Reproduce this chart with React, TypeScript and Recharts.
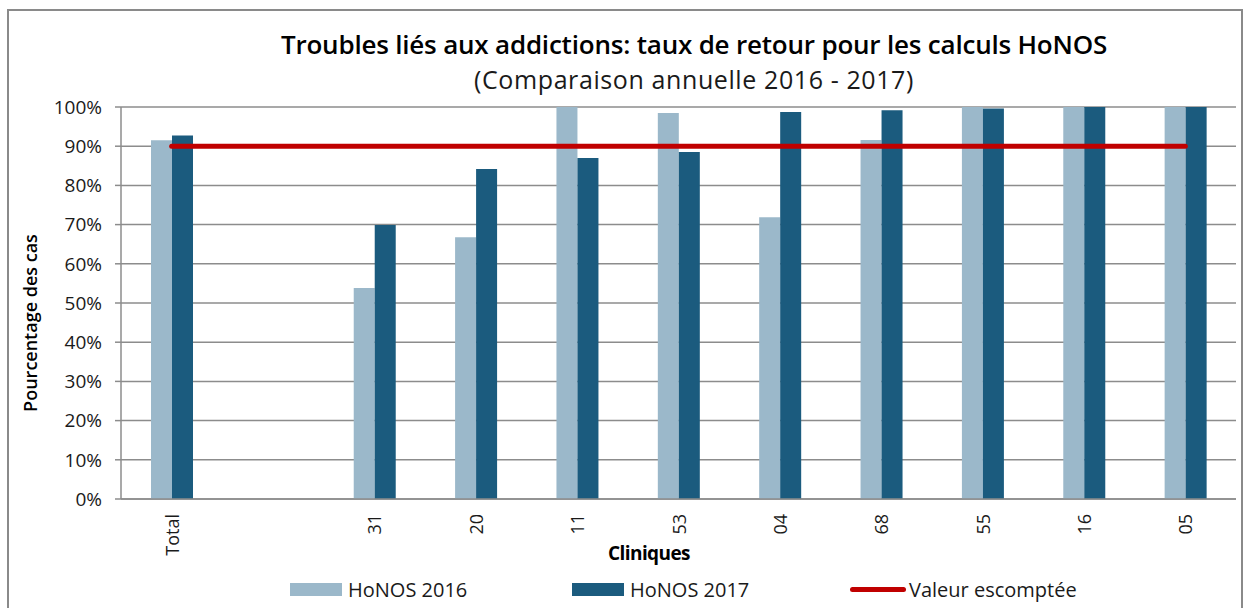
import { ComposedChart, Bar, Line, XAxis, YAxis, CartesianGrid } from 'recharts';

// valeurs (%)
const categories = ['Total', '', '31', '20', '11', '53', '04', '68', '55', '16', '05'];
const honos2016 = [91.5, null, 53.8, 66.8, 100, 98.5, 71.9, 91.6, 100, 100, 100];
const honos2017 = [92.7, null, 69.9, 84.2, 87, 88.5, 98.7, 99.2, 99.6, 100, 100];
const expected = [90, 90, 90, 90, 90, 90, 90, 90, 90, 90, 90];
const yTicks = [0, 10, 20, 30, 40, 50, 60, 70, 80, 90, 100];
const boundaryTicks = [0, 1, 2, 3, 4, 5, 6, 7, 8, 9, 10, 11];

const LIGHT = '#9bb8ca';
const DARK = '#1b5b7e';
const RED = '#c00000';
const GRID = '#8c8c8c';
const FONT = '"Open Sans", "Noto Sans", sans-serif';

const data = categories.map((name, i) => ({
  name,
  idx: i + 0.5,
  h2016: honos2016[i],
  h2017: honos2017[i],
  target: expected[i],
}));

const legendItems = [
  { label: 'HoNOS 2016', color: LIGHT, kind: 'box', left: 290 },
  { label: 'HoNOS 2017', color: DARK, kind: 'box', left: 572 },
  { label: 'Valeur escomptée', color: RED, kind: 'line', left: 850 },
];

const CatTick = ({ x, y, payload }: any) => (
  <text
    x={x}
    y={y}
    transform={`rotate(-90, ${x}, ${y})`}
    textAnchor="end"
    dominantBaseline="central"
    fontSize={18}
    fontFamily={FONT}
    fill="#1a1a1a"
  >
    {payload.value}
  </text>
);

const App = () => {
  return (
    <div style={{ position: 'absolute', left: 0, top: 0, width: 1248, height: 608, overflow: 'hidden', fontFamily: FONT }}>
      <div style={{ position: 'absolute', left: 7, top: 9, width: 1232, height: 640, border: '2px solid #8a8a8a' }} />

      <div style={{ position: 'absolute', left: 0, width: 1388, top: 29, textAlign: 'center', fontSize: 26, fontWeight: 600, letterSpacing: -0.2, color: '#000', lineHeight: '30px', whiteSpace: 'nowrap' }}>
        Troubles liés aux addictions: taux de retour pour les calculs HoNOS
      </div>
      <div style={{ position: 'absolute', left: 0, width: 1388, top: 65, textAlign: 'center', fontSize: 25, letterSpacing: 0.6, color: '#1a1a1a', lineHeight: '28px', whiteSpace: 'nowrap' }}>
        (Comparaison annuelle 2016 - 2017)
      </div>

      <div style={{ position: 'absolute', left: 0, top: 0 }}>
        <ComposedChart
          width={1248}
          height={608}
          data={data}
          margin={{ top: 107, right: 12, bottom: 0, left: 0 }}
          barGap={0}
        >
          <CartesianGrid vertical={false} stroke={GRID} strokeWidth={1.5} />
          <XAxis
            xAxisId="bounds"
            type="number"
            dataKey="idx"
            domain={[0, 11]}
            ticks={boundaryTicks}
            allowDataOverflow
            height={0}
            tick={false}
            tickSize={7}
            axisLine={false}
            stroke={GRID}
            strokeWidth={1.5}
          />
          <XAxis
            dataKey="name"
            height={109}
            interval={0}
            tickLine={false}
            tickSize={0}
            tickMargin={15}
            axisLine={{ stroke: GRID, strokeWidth: 1.5 }}
            tick={<CatTick />}
          />
          <YAxis
            width={121}
            domain={[0, 100]}
            ticks={yTicks}
            tickFormatter={(v: number) => `${v}%`}
            tickSize={6}
            tickMargin={13}
            axisLine={{ stroke: GRID, strokeWidth: 1.5 }}
            tickLine={{ stroke: GRID, strokeWidth: 1.5 }}
            tick={{ fontSize: 19, fontFamily: FONT, fill: '#1a1a1a' }}
          />
          <Bar dataKey="h2016" name="HoNOS 2016" fill={LIGHT} barSize={21} isAnimationActive={false} />
          <Bar dataKey="h2017" name="HoNOS 2017" fill={DARK} barSize={21} isAnimationActive={false} />
          <Line
            dataKey="target"
            name="Valeur escomptée"
            stroke={RED}
            strokeWidth={5}
            strokeLinecap="round"
            dot={false}
            activeDot={false}
            isAnimationActive={false}
          />
        </ComposedChart>
      </div>

      <div style={{ position: 'absolute', left: 30, top: 323, transform: 'translate(-50%, -50%) rotate(-90deg)', whiteSpace: 'nowrap', fontSize: 18, fontWeight: 600, color: '#000' }}>
        Pourcentage des cas
      </div>
      <div style={{ position: 'absolute', left: 649, top: 553, transform: 'translate(-50%, -50%)', whiteSpace: 'nowrap', fontSize: 19, fontWeight: 700, letterSpacing: -0.6, color: '#000' }}>
        Cliniques
      </div>

      {legendItems.map((it) => (
        <div key={it.label} style={{ position: 'absolute', left: it.left, top: 576, height: 26, display: 'flex', alignItems: 'center', fontSize: 20, color: '#1a1a1a', whiteSpace: 'nowrap' }}>
          {it.kind === 'box' ? (
            <span style={{ display: 'inline-block', width: 52, height: 13, background: it.color, marginRight: 6 }} />
          ) : (
            <span style={{ display: 'inline-block', width: 56, height: 5, borderRadius: 3, background: it.color, marginRight: 3 }} />
          )}
          {it.label}
        </div>
      ))}
    </div>
  );
};

export default App;
